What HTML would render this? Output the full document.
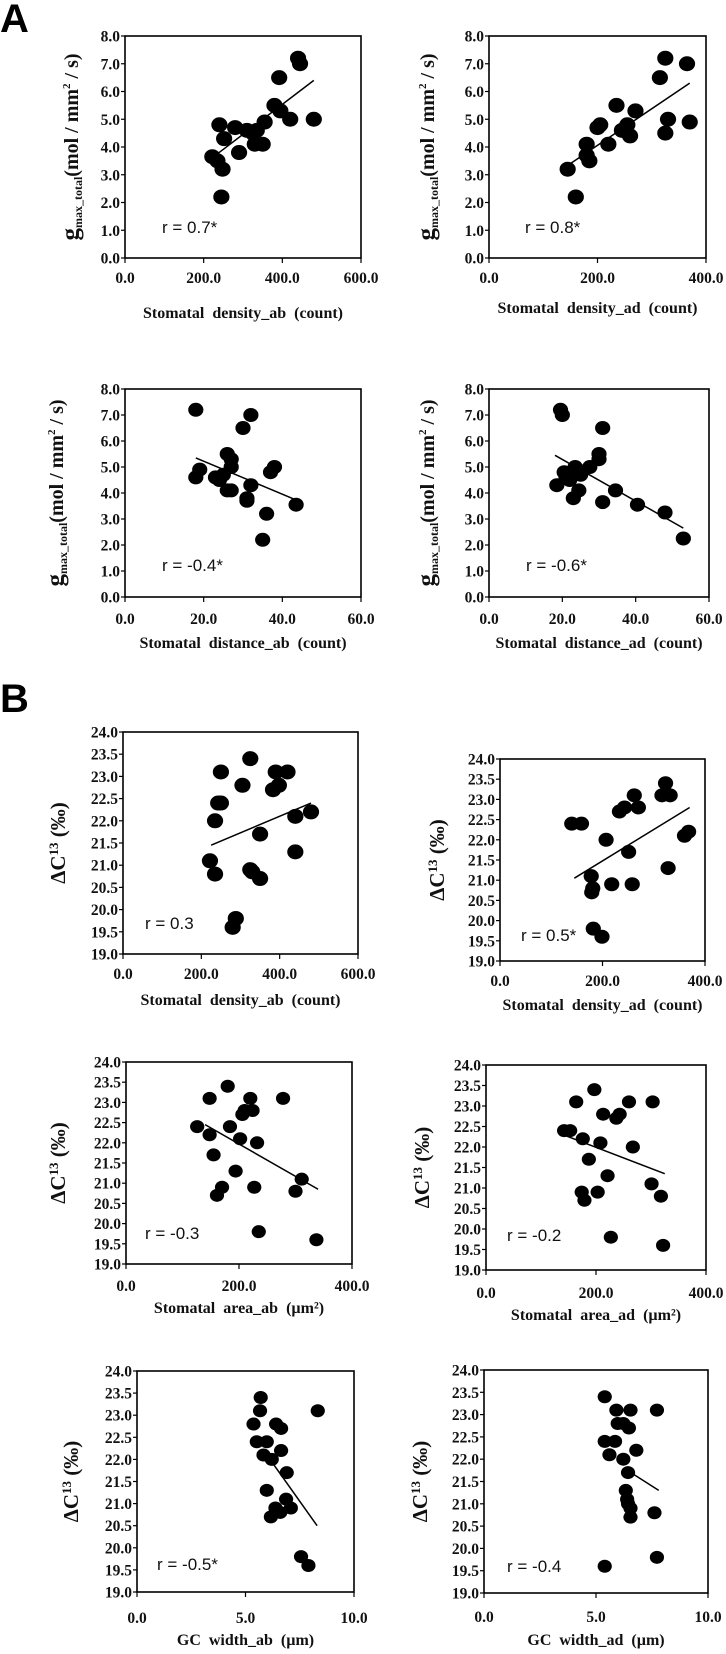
<!DOCTYPE html>
<html><head><meta charset="utf-8">
<style>
html,body{margin:0;padding:0;background:#fff;}
svg{display:block;}
.tk{font-family:"Liberation Serif",serif;font-weight:bold;font-size:15.5px;fill:#111;}
.tt{font-family:"Liberation Serif",serif;font-weight:bold;font-size:16px;fill:#111;}
.rr{font-family:"Liberation Sans",sans-serif;font-size:17px;fill:#111;}
.lt{font-family:"Liberation Sans",sans-serif;font-weight:bold;font-size:40px;fill:#000;}
</style></head>
<body>
<svg id="fig" width="726" height="1654" viewBox="0 0 726 1654" xmlns="http://www.w3.org/2000/svg">
<text class="lt" x="0" y="32">A</text>
<text class="lt" x="0" y="712">B</text>
</svg>
<script>
// ---- data ----
const a1X=[240,222,235,248,245,252,280,290,310,325,330,335,350,355,380,395,392,420,440,445,480];
const a1Y=[4.8,3.65,3.5,3.2,2.2,4.3,4.7,3.8,4.6,4.5,4.1,4.6,4.1,4.9,5.5,5.3,6.5,5.0,7.2,7.0,5.0];
const a1TX=[230,480]; const a1TY=[3.7,6.4];
const a2X=[145,160,180,180,185,200,205,220,235,245,255,260,270,315,325,325,330,365,370];
const a2Y=[3.2,2.2,4.1,3.7,3.5,4.7,4.8,4.1,5.5,4.6,4.8,4.4,5.3,6.5,7.2,4.5,5.0,7.0,4.9];
const a2TX=[150,370]; const a2TY=[3.4,6.3];
const a3X=[18,18,19,23,24,25,26,26,27,27,27,30,31,31,32,32,35,36,37,38,43.5];
const a3Y=[7.2,4.6,4.9,4.6,4.5,4.7,4.1,5.5,5.3,5.0,4.1,6.5,3.7,3.8,4.3,7.0,2.2,3.2,4.8,5.0,3.55];
const a3TX=[18,44]; const a3TY=[5.35,3.7];
const a4X=[18.5,19.5,20,20.5,21,22,23,23.5,24,24.5,25,27.5,30,30,31,31,34.5,40.5,48,53];
const a4Y=[4.3,7.2,7.0,4.8,4.6,4.5,3.8,5.0,4.9,4.1,4.7,5.0,5.5,5.3,6.5,3.65,4.1,3.55,3.25,2.25];
const a4TX=[18,53]; const a4TY=[5.45,2.65];
const b1X=[222,235,235,243,250,250,280,288,305,325,325,330,350,350,383,390,398,420,440,440,480];
const b1Y=[21.1,22.0,20.8,22.4,22.4,23.1,19.6,19.8,22.8,23.4,20.9,20.85,20.7,21.7,22.7,23.1,22.8,23.1,22.1,21.3,22.2];
const b1TX=[225,480]; const b1TY=[21.45,22.4];
const b2X=[140,159,178,181,179,182,199,207,218,233,243,251,258,262,270,316,323,332,328,360,368];
const b2Y=[22.4,22.4,21.1,20.8,20.7,19.8,19.6,22.0,20.9,22.7,22.8,21.7,20.9,23.1,22.8,23.1,23.4,23.1,21.3,22.1,22.2];
const b2TX=[145,370]; const b2TY=[21.05,22.8];
const b3X=[126,148,148,155,161,170,180,184,194,202,206,210,220,224,227,232,235,278,300,311,337];
const b3Y=[22.4,22.2,23.1,21.7,20.7,20.9,23.4,22.4,21.3,22.1,22.7,22.8,23.1,22.8,20.9,22.0,19.8,23.1,20.8,21.1,19.6];
const b3TX=[140,340]; const b3TY=[22.45,20.85];
const b4X=[142,153,164,174,176,179,187,197,203,208,213,221,227,237,243,260,267,301,303,318,322];
const b4Y=[22.4,22.4,23.1,20.9,22.2,20.7,21.7,23.4,20.9,22.1,22.8,21.3,19.8,22.7,22.8,23.1,22.0,21.1,23.1,20.8,19.6];
const b4TX=[140,325]; const b4TY=[22.3,21.35];
const b5X=[5.37,5.52,5.67,5.7,5.83,5.98,5.98,6.17,6.21,6.38,6.41,6.6,6.64,6.64,6.87,6.9,7.09,7.56,7.9,8.33];
const b5Y=[22.8,22.4,23.1,23.4,22.1,22.4,21.3,20.7,22.0,20.9,22.8,20.8,22.7,22.2,21.1,21.7,20.9,19.8,19.6,23.1];
const b5TX=[6.2,8.3]; const b5TY=[21.95,20.5];
const b6X=[5.39,5.39,5.39,5.6,5.85,5.91,5.97,6.22,6.22,6.33,6.39,6.43,6.43,6.47,6.54,6.54,6.54,6.8,7.61,7.72,7.72];
const b6Y=[22.4,23.4,19.6,22.1,22.4,23.1,22.8,22.8,22.0,21.3,21.1,21.0,21.7,22.7,23.1,20.9,20.7,22.2,20.8,23.1,19.8];
const b6TX=[6.4,7.8]; const b6TY=[21.75,21.3];

const gTicks=[0,1,2,3,4,5,6,7,8];
const dTicks=[19,19.5,20,20.5,21,21.5,22,22.5,23,23.5,24];
const x600=[0,200,400,600];
const x400=[0,200,400];
const x60=[0,20,40,60];
const x10=[0,5,10];

const NS='http://www.w3.org/2000/svg';
const svg=document.getElementById('fig');
function mk(tag,attrs,parent){const e=document.createElementNS(NS,tag);for(const k in attrs)e.setAttribute(k,attrs[k]);(parent||svg).appendChild(e);return e;}

const panels=[
 {id:'a1',L:125,R:361,T:36,B:258,xs:x600,ys:gTicks,X:a1X,Y:a1Y,TX:a1TX,TY:a1TY,type:'g',yt:70,xt:'Stomatal  density_ab  (count)',xty:318,tky:283,r:'r = 0.7*',rx:162,ry:233,rad:7.5},
 {id:'a2',L:489,R:706,T:36,B:258,xs:x400,ys:gTicks,X:a2X,Y:a2Y,TX:a2TX,TY:a2TY,type:'g',yt:426,xt:'Stomatal  density_ad  (count)',xty:313,tky:283,r:'r = 0.8*',rx:525,ry:233,rad:7.5},
 {id:'a3',L:125,R:361,T:389,B:597,xs:x60,ys:gTicks,X:a3X,Y:a3Y,TX:a3TX,TY:a3TY,type:'g',yt:55,xt:'Stomatal  distance_ab  (count)',xty:648,tky:624,r:'r = -0.4*',rx:162,ry:571,rad:7},
 {id:'a4',L:489,R:709,T:389,B:597,xs:x60,ys:gTicks,X:a4X,Y:a4Y,TX:a4TX,TY:a4TY,type:'g',yt:426,xt:'Stomatal  distance_ad  (count)',xty:648,tky:624,r:'r = -0.6*',rx:526,ry:571,rad:7},
 {id:'b1',L:123,R:358,T:732,B:954,xs:x600,ys:dTicks,X:b1X,Y:b1Y,TX:b1TX,TY:b1TY,type:'d',yt:57,xt:'Stomatal  density_ab  (count)',xty:1005,tky:979,r:'r = 0.3',rx:145,ry:929,rad:7.5},
 {id:'b2',L:500,R:705,T:759,B:961,xs:x400,ys:dTicks,X:b2X,Y:b2Y,TX:b2TX,TY:b2TY,type:'d',yt:436,xt:'Stomatal  density_ad  (count)',xty:1010,tky:986,r:'r = 0.5*',rx:521,ry:941,rad:7},
 {id:'b3',L:126,R:352,T:1062,B:1264,xs:x400,ys:dTicks,X:b3X,Y:b3Y,TX:b3TX,TY:b3TY,type:'d',yt:57,xt:'Stomatal  area_ab  (µm²)',xty:1313,tky:1291,r:'r = -0.3',rx:145,ry:1239,rad:6.5},
 {id:'b4',L:486,R:706,T:1065,B:1270,xs:x400,ys:dTicks,X:b4X,Y:b4Y,TX:b4TX,TY:b4TY,type:'d',yt:421,xt:'Stomatal  area_ad  (µm²)',xty:1320,tky:1298,r:'r = -0.2',rx:507,ry:1241,rad:6.5},
 {id:'b5',L:137,R:354,T:1371,B:1592,xs:x10,ys:dTicks,X:b5X,Y:b5Y,TX:b5TX,TY:b5TY,type:'d',yt:70,xt:'GC  width_ab  (µm)',xty:1645,tky:1623,r:'r = -0.5*',rx:157,ry:1570,rad:6.5},
 {id:'b6',L:484,R:708,T:1370,B:1593,xs:x10,ys:dTicks,X:b6X,Y:b6Y,TX:b6TX,TY:b6TY,type:'d',yt:419,xt:'GC  width_ad  (µm)',xty:1645,tky:1622,r:'r = -0.4',rx:507,ry:1572,rad:6.5}
];

panels.forEach(p=>{
 const g=mk('g',{});
 
 
 const x0=p.xs[0],x1=p.xs[p.xs.length-1],y0=p.ys[0],y1=p.ys[p.ys.length-1];
 const sx=v=>p.L+(v-x0)/(x1-x0)*(p.R-p.L);
 const sy=v=>p.B-(v-y0)/(y1-y0)*(p.B-p.T);
 const box=mk('rect',{x:p.L,y:p.T,width:p.R-p.L,height:p.B-p.T,fill:'none',stroke:'#000','stroke-width':1.6},g);
 
 
 p.ys.forEach((v,i)=>{
  mk('line',{x1:p.L-4,x2:p.L,y1:sy(v),y2:sy(v),stroke:'#000','stroke-width':1.2},g);
  const t=mk('text',{x:p.L-5,y:sy(v)+5.5,'text-anchor':'end',class:'tk'},g);
  t.textContent=v.toFixed(1);
  
  
 });
 p.xs.forEach(v=>{
  mk('line',{x1:sx(v),x2:sx(v),y1:p.B,y2:p.B+5,stroke:'#000','stroke-width':1.2},g);
  const t=mk('text',{x:sx(v),y:p.tky,'text-anchor':'middle',class:'tk'},g);
  t.textContent=v.toFixed(1);
  
  
 });
 p.X.forEach((v,i)=>{
  const c=mk('ellipse',{cx:sx(v),cy:sy(p.Y[i]),rx:p.rad+0.6,ry:p.rad,fill:'#000'},g);
  
  
 });
 const ln=mk('line',{x1:sx(p.TX[0]),y1:sy(p.TY[0]),x2:sx(p.TX[1]),y2:sy(p.TY[1]),stroke:'#000','stroke-width':1.5},g);
 
 
 const xt=mk('text',{x:(p.L+p.R)/2,y:p.xty,'text-anchor':'middle',class:'tt','xml:space':'preserve'},g);
 xt.setAttribute('style','white-space:pre');
 xt.textContent=p.xt;
 
 
 const r=mk('text',{x:p.rx,y:p.ry,class:'rr'},g);
 r.textContent=p.r;
 
 
 const cy=(p.T+p.B)/2;
 const yt=mk('text',{x:0,y:0,'text-anchor':'middle',class:'tt',transform:'translate('+(p.yt+8)+','+cy+') rotate(-90)'},g);
 
 
 if(p.type==='g'){
  yt.innerHTML='<tspan font-size="25">g</tspan><tspan font-size="12" dy="4">max_total</tspan><tspan font-size="20" dy="-4">(mol / mm</tspan><tspan font-size="11" dy="-8">2</tspan><tspan font-size="20" dy="8"> / s)</tspan>';
 } else {
  yt.innerHTML='<tspan font-size="21">ΔC</tspan><tspan font-size="13" dy="-7">13</tspan><tspan font-size="21" dy="7"> (‰)</tspan>';
 }
});
</script>
</body></html>
